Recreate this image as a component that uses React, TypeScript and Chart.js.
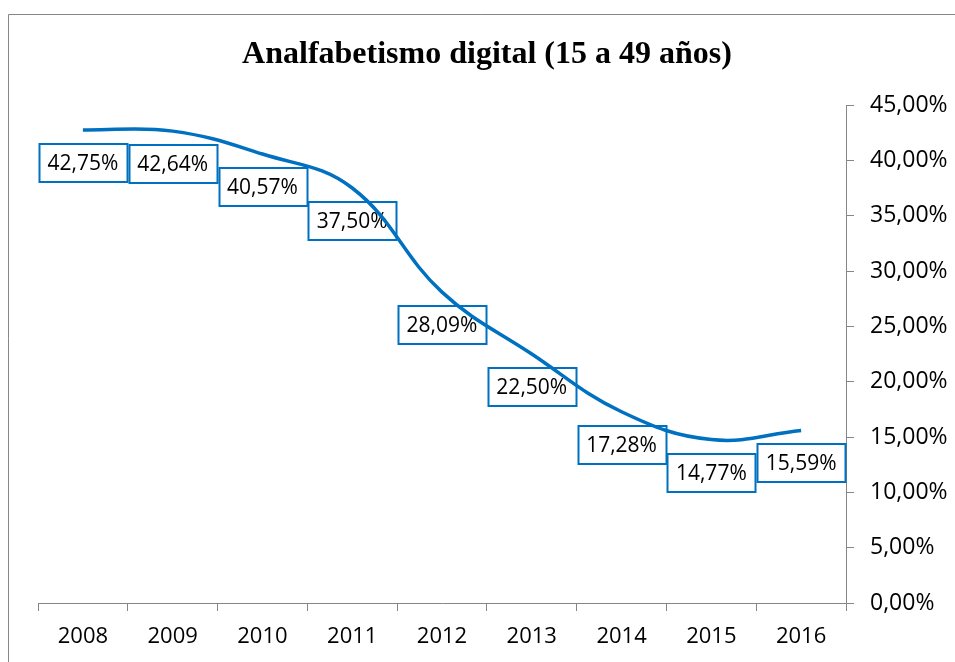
import React, { useEffect, useRef } from "react";
import { Chart, registerables } from "chart.js";

Chart.register(...registerables);

const years = ["2008", "2009", "2010", "2011", "2012", "2013", "2014", "2015", "2016"];
const values = [42.75, 42.64, 40.57, 37.5, 28.09, 22.5, 17.28, 14.77, 15.59];
const chartTitle = "Analfabetismo digital (15 a 49 años)";
const blue = "#0070C0";
const axisGray = "#868686";
const fontFamily = "'Open Sans', sans-serif";

const fmt = (v: number) => v.toFixed(2).replace(".", ",") + "%";

const decor = {
  id: "decor",
  beforeDraw(chart: any) {
    const ctx = chart.ctx;
    ctx.save();
    ctx.fillStyle = "#fff";
    ctx.fillRect(0, 0, chart.width, chart.height);
    ctx.strokeStyle = axisGray;
    ctx.lineWidth = 1;
    ctx.beginPath();
    ctx.moveTo(8.5, chart.height);
    ctx.lineTo(8.5, 14.5);
    ctx.lineTo(chart.width, 14.5);
    ctx.stroke();
    ctx.fillStyle = "#000";
    ctx.font = "bold 32px 'Liberation Serif', 'Times New Roman', serif";
    ctx.textAlign = "center";
    ctx.textBaseline = "alphabetic";
    ctx.fillText(chartTitle, 487, 63);
    ctx.restore();
  },
  beforeDatasetsDraw(chart: any) {
    const ctx = chart.ctx;
    const meta = chart.getDatasetMeta(0);
    const xs = chart.scales.x;
    const catW = xs.width / years.length;
    ctx.save();
    ctx.font = "21px " + fontFamily;
    ctx.textAlign = "center";
    ctx.textBaseline = "middle";
    meta.data.forEach((pt: any, i: number) => {
      const w = catW - 2;
      const h = 38;
      const x = pt.x - w / 2;
      const y = pt.y + 14;
      ctx.strokeStyle = blue;
      ctx.lineWidth = 2;
      ctx.strokeRect(Math.round(x) + 0.5, Math.round(y), Math.round(w), h);
      ctx.fillStyle = "#000";
      ctx.fillText(fmt(values[i]), pt.x, y + h / 2 + 1);
    });
    ctx.restore();
  },
};

export default function App() {
  const ref = useRef<HTMLCanvasElement>(null);
  useEffect(() => {
    if (!ref.current) return;
    const chart = new Chart(ref.current, {
      type: "line",
      data: {
        labels: years,
        datasets: [
          {
            data: values,
            borderColor: blue,
            borderWidth: 3.5,
            tension: 0.4,
            pointRadius: 0,
            fill: false,
          },
        ],
      },
      options: {
        animation: false,
        responsive: false,
        devicePixelRatio: 1,
        layout: { padding: { left: 38, top: 105, right: 0, bottom: 0 } },
        plugins: { legend: { display: false }, title: { display: false }, tooltip: { enabled: false } },
        scales: {
          x: {
            offset: true,
            grid: { offset: true, drawOnChartArea: false, drawTicks: true, tickLength: 8, color: axisGray },
            border: { color: axisGray, width: 1 },
            ticks: { color: "#000", font: { family: fontFamily, size: 22 }, padding: 13, maxRotation: 0 },
            afterFit(scale: any) {
              scale.height = 59;
            },
          },
          y: {
            position: "right",
            min: 0,
            max: 45,
            grid: { drawOnChartArea: false, drawTicks: true, tickLength: 8, color: axisGray },
            border: { color: axisGray, width: 1 },
            ticks: {
              stepSize: 5,
              color: "#000",
              font: { family: fontFamily, size: 23 },
              padding: 16,
              callback: (v: any) => fmt(Number(v)),
            },
            afterFit(scale: any) {
              scale.width = 109;
            },
          },
        },
      },
      plugins: [decor],
    });
    return () => chart.destroy();
  }, []);
  return (
    <div style={{ position: "absolute", left: 0, top: 0, width: 955, height: 662 }}>
      <canvas ref={ref} width={955} height={662} style={{ width: 955, height: 662, display: "block" }} />
    </div>
  );
}
